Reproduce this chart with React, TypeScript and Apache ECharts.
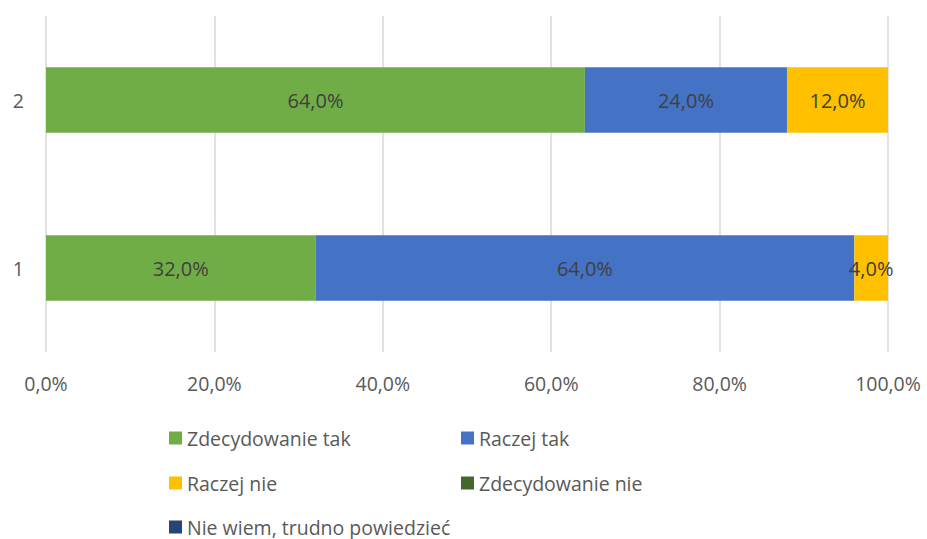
import React, { useEffect, useRef } from "react";
import * as echarts from "echarts";

const categories = ["1", "2"];
const seriesNames = [
  "Zdecydowanie tak",
  "Raczej tak",
  "Raczej nie",
  "Zdecydowanie nie",
  "Nie wiem, trudno powiedzieć",
];
const zdecydowanieTak = [32, 64];
const raczejTak = [64, 24];
const raczejNie = [4, 12];
const zdecydowanieNie = [0, 0];
const nieWiem = [0, 0];
const xTicks = [0, 20, 40, 60, 80, 100];

const colors = ["#70AD47", "#4472C4", "#FFC000", "#43682B", "#264478"];
const FONT = "'Open Sans', sans-serif";

const fmt = (v: number) => v.toFixed(1).replace(".", ",") + "%";

export default function App() {
  const ref = useRef<HTMLDivElement>(null);
  useEffect(() => {
    if (!ref.current) return;
    const chart = echarts.init(ref.current, undefined, { renderer: "svg" });
    const values = [zdecydowanieTak, raczejTak, raczejNie, zdecydowanieNie, nieWiem];
    const legendPos = [
      { left: 164, top: 427 },
      { left: 456, top: 427 },
      { left: 164, top: 472 },
      { left: 456, top: 472 },
      { left: 164, top: 516 },
    ];
    chart.setOption({
      animation: false,
      color: colors,
      textStyle: { fontFamily: FONT },
      grid: { left: 46, right: 39, top: 16, height: 336, containLabel: false },
      xAxis: {
        type: "value",
        min: xTicks[0],
        max: xTicks[xTicks.length - 1],
        interval: 20,
        axisLine: { show: false },
        axisTick: { show: false },
        splitLine: { show: true, lineStyle: { color: "#D9D9D9", width: 1.5 } },
        axisLabel: {
          formatter: (v: number) => fmt(v),
          color: "#595959",
          fontSize: 19.5,
          fontFamily: FONT,
          margin: 21,
        },
      },
      yAxis: {
        type: "category",
        data: categories,
        axisLine: { show: false },
        axisTick: { show: false },
        axisLabel: { color: "#595959", fontSize: 19.5, fontFamily: FONT, margin: 22 },
      },
      legend: seriesNames.map((name, i) => ({
        data: [name],
        left: legendPos[i].left,
        top: legendPos[i].top,
        padding: [0, 5, 0, 5],
        itemWidth: 13,
        itemHeight: 13,
        icon: "rect",
        textStyle: { color: "#595959", fontSize: 19.5, lineHeight: 22, fontFamily: FONT },
      })),
      series: seriesNames.map((name, i) => ({
        name,
        type: "bar",
        stack: "total",
        barWidth: "39%",
        data: values[i],
        itemStyle: { color: colors[i] },
        label: {
          show: true,
          position: "inside",
          color: "#404040",
          fontSize: 20,
          fontFamily: FONT,
          formatter: (p: any) => (p.value ? fmt(p.value) : ""),
        },
        labelLayout: { hideOverlap: false },
      })),
    });
    return () => chart.dispose();
  }, []);
  return <div ref={ref} style={{ width: 927, height: 539, position: "absolute", left: 0, top: 0 }} />;
}
